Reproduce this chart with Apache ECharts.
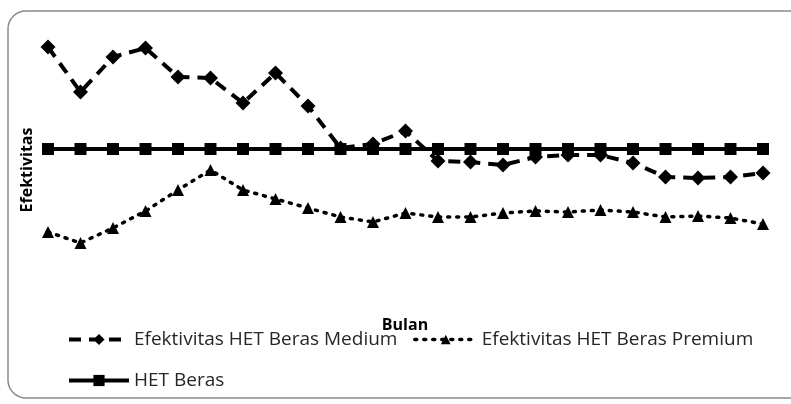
<!DOCTYPE html>
<html><head><meta charset="utf-8">
<script src="https://cdn.jsdelivr.net/npm/echarts@6/dist/echarts.min.js"></script>
<style>html,body{margin:0;padding:0;background:#fff;}#c{width:791px;height:404px;}</style>
</head><body><div id="c"></div>
<script>
const months = ['1','2','3','4','5','6','7','8','9','10','11','12','13','14','15','16','17','18','19','20','21','22','23'];
const medium = [110.2,105.7,109.2,110.1,107.2,107.1,104.6,107.6,104.3,100.1,100.5,101.8,98.8,98.7,98.4,99.2,99.4,99.4,98.6,97.2,97.1,97.2,97.6];
const premium = [91.7,90.6,92.1,93.8,95.9,97.9,95.9,95.0,94.1,93.2,92.7,93.6,93.2,93.2,93.6,93.8,93.7,93.9,93.7,93.2,93.3,93.1,92.5];
const het = [100,100,100,100,100,100,100,100,100,100,100,100,100,100,100,100,100,100,100,100,100,100,100];
const names = ['Efektivitas HET Beras Medium','Efektivitas HET Beras Premium','HET Beras'];
const font = "'Open Sans', sans-serif";
const legText = {fontFamily:font,fontSize:19,color:'#262626'};
const chart = echarts.init(document.getElementById('c'), null, {renderer:'canvas'});
chart.setOption({
  animation:false,
  backgroundColor:'#fff',
  graphic:[{type:'rect',shape:{x:8,y:11,width:810,height:387,r:18},style:{fill:'none',stroke:'#8a8a8a',lineWidth:1.5},z:-1},
           {type:'text',x:405,y:325,style:{text:'Bulan',font:"bold 16px "+font,fill:'#000',align:'center',verticalAlign:'middle'},z:10},
           {type:'text',x:27,y:170,rotation:Math.PI/2,style:{text:'Efektivitas',font:"bold 16px "+font,fill:'#000',align:'center',verticalAlign:'middle'},z:10}],
  grid:{left:48,right:28,top:19,height:280},
  xAxis:{type:'category',data:months,boundaryGap:false,axisLine:{show:false},axisTick:{show:false},axisLabel:{show:false},splitLine:{show:false}},
  yAxis:{type:'value',min:85,max:113,axisLine:{show:false},axisTick:{show:false},axisLabel:{show:false},splitLine:{show:false}},
  legend:[{data:[names[0]],left:62,top:325,itemWidth:60,itemHeight:14,itemGap:4,textStyle:legText,lineStyle:{width:4}},
    {data:[names[1]],left:408,top:325,itemWidth:62,itemHeight:12,itemGap:4,textStyle:legText,lineStyle:{width:3.5}},
    {data:[names[2]],left:62,top:366,itemWidth:60,itemHeight:14,itemGap:4,textStyle:legText,lineStyle:{width:4}}],
  series:[
    {name:names[0],type:'line',data:medium,symbol:'diamond',symbolSize:15,itemStyle:{color:'#000'},
     lineStyle:{color:'#000',width:4,type:[12,8]},z:3},
    {name:names[1],type:'line',data:premium,symbol:'triangle',symbolSize:12,itemStyle:{color:'#000'},
     lineStyle:{color:'#000',width:3.5,type:[2,7],cap:'round'},z:3},
    {name:names[2],type:'line',data:het,symbol:'rect',symbolSize:12,itemStyle:{color:'#000'},
     lineStyle:{color:'#000',width:4},z:2}
  ]
});
</script></body></html>
